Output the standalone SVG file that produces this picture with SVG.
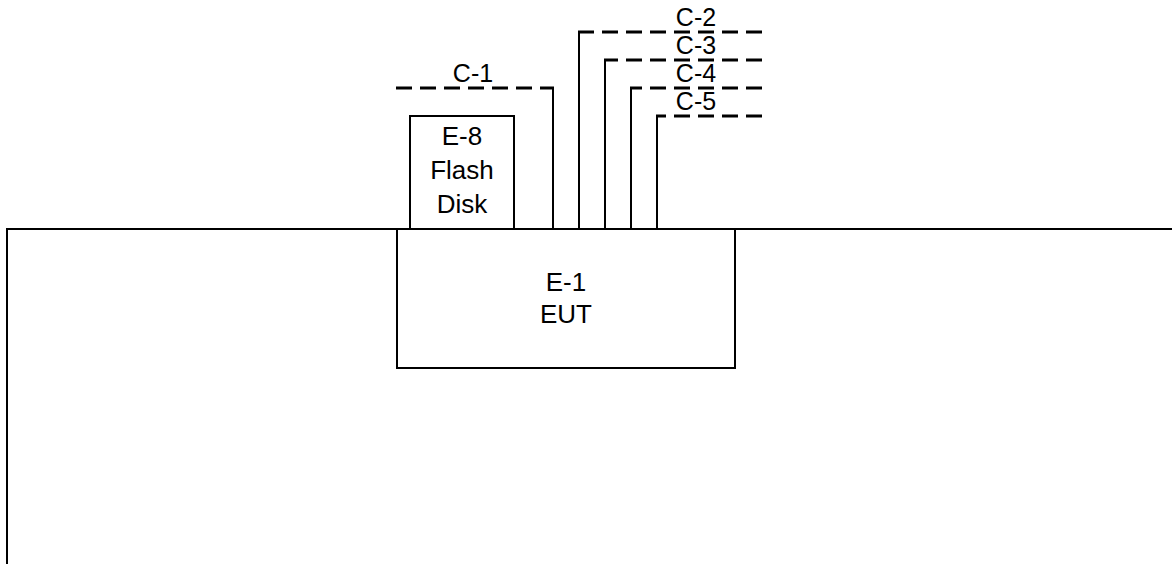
<svg xmlns="http://www.w3.org/2000/svg" width="1172" height="564" viewBox="0 0 1172 564">
  <style>
    .box { fill: #ffffff; stroke: #000000; stroke-width: 2; }
    .line { fill: none; stroke: #000000; stroke-width: 2; }
    .dash { fill: none; stroke: #000000; stroke-width: 3; stroke-dasharray: 16 8; }
    .lbl { font-family: "Liberation Sans", Arial, sans-serif; font-size: 25px; fill: #000000; text-anchor: middle; }
    .blbl { font-size: 26px; }
  </style>
  <rect width="1172" height="564" fill="#ffffff"/>
  <g id="table">
    <polyline class="line" points="7,564 7,229 1172,229"/>
  </g>
  <g id="connectors">
    <line class="line" x1="553" y1="229" x2="553" y2="88"/>
    <line class="dash" x1="396" y1="88" x2="554" y2="88"/>
    <line class="line" x1="579" y1="229" x2="579" y2="32"/>
    <line class="dash" x1="762" y1="32" x2="578" y2="32"/>
    <line class="line" x1="605" y1="229" x2="605" y2="60"/>
    <line class="dash" x1="762" y1="60" x2="604" y2="60"/>
    <line class="line" x1="631" y1="229" x2="631" y2="88"/>
    <line class="dash" x1="762" y1="88" x2="630" y2="88"/>
    <line class="line" x1="657" y1="229" x2="657" y2="116"/>
    <line class="dash" x1="762" y1="116" x2="656" y2="116"/>
    <text class="lbl" x="473" y="82">C-1</text>
    <text class="lbl" x="696" y="26">C-2</text>
    <text class="lbl" x="696" y="54">C-3</text>
    <text class="lbl" x="696" y="82">C-4</text>
    <text class="lbl" x="696" y="110">C-5</text>
  </g>
  <g id="flash-disk">
    <rect class="box" x="410" y="116" width="104" height="113"/>
    <text class="lbl blbl" x="462" y="145">E-8</text>
    <text class="lbl blbl" x="462" y="179">Flash</text>
    <text class="lbl blbl" x="462" y="213">Disk</text>
  </g>
  <g id="eut">
    <rect class="box" x="397" y="229" width="338" height="139"/>
    <text class="lbl blbl" x="566" y="291">E-1</text>
    <text class="lbl blbl" x="566" y="323">EUT</text>
  </g>
</svg>
